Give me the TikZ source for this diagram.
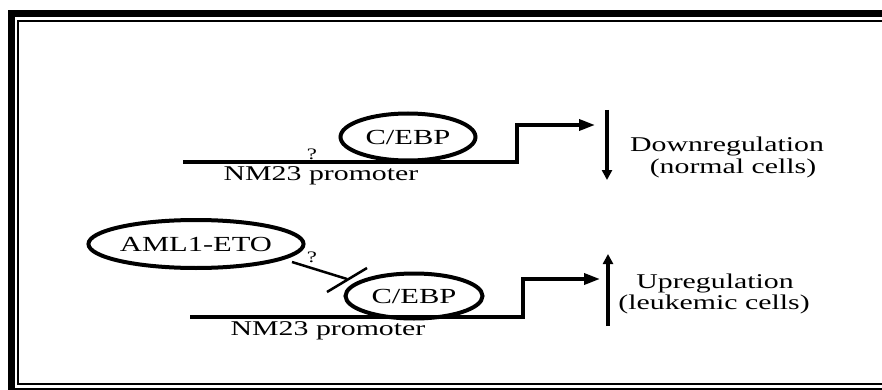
\documentclass[tikz,border=0pt]{standalone}
\usepackage{fontspec}
\setmainfont[FakeStretch=1.42]{Liberation Serif}
\usetikzlibrary{shapes.geometric,arrows.meta}
\tikzset{
  lbl/.style={font=\fontsize{21}{23}\selectfont, inner sep=0pt, anchor=base},
  qm/.style={font=\fontsize{16}{18}\selectfont, inner sep=0pt, anchor=base},
  prot/.style={ellipse, draw, line width=4pt, inner sep=0pt, font=\fontsize{21.5}{23}\selectfont},
  dna/.style={line width=3.5pt, line join=miter, -{Triangle[length=16pt,width=11pt]}},
  reg/.style={line width=3.5pt, -{Triangle[length=10pt,width=10pt]}},
  inh/.style={line width=2.5pt},
}
\begin{document}
\begin{tikzpicture}[x=1pt,y=-1pt]
\useasboundingbox (0,0) rectangle (882,390);
\clip (0,0) rectangle (882,390);
% frame
\draw[line width=7.5pt] (11.5,13.75) rectangle (900,391.5);
\draw[line width=2pt] (18,21) rectangle (895,384);

% ---- top row ----
\coordinate (p1s) at (183,162);
\coordinate (p1c) at (517,162);
\coordinate (p1u) at (517,125);
\coordinate (p1t) at (595,125);
\draw[dna] (p1s) -- (p1c) -- (p1u) -- (p1t);
\node[prot, minimum width=135pt, minimum height=47pt] (ceb1) at (408,137) {C/EBP};
\node[qm] (q1) at (312,160) {?};
\node[lbl] (prom1) at (321,180) {NM23 promoter};
\coordinate (d1) at (607,110);
\coordinate (d2) at (607,180);
\draw[reg] (d1) -- (d2);
\node[lbl] (down) at (727,152) {Downregulation};
\node[lbl] (norm) at (733,173) {(normal cells)};

% ---- bottom row ----
\coordinate (p2s) at (190,317);
\coordinate (p2c) at (523,317);
\coordinate (p2u) at (523,279);
\coordinate (p2t) at (600,279);
\draw[dna] (p2s) -- (p2c) -- (p2u) -- (p2t);
\node[prot, minimum width=137pt, minimum height=45pt] (ceb2) at (414,296) {C/EBP};
\node[prot, minimum width=190pt, minimum height=48pt] (aml) at (196,244) {AML1-ETO};
\coordinate (i1) at (292,262);
\coordinate (i2) at (347,279);
\coordinate (b1) at (327,292);
\coordinate (b2) at (367,268);
\draw[inh] (i1) -- (i2);
\draw[inh] (b1) -- (b2);
\node[qm] (q2) at (312,262) {?};
\node[lbl] (prom2) at (328,335) {NM23 promoter};
\coordinate (u1) at (608,326);
\coordinate (u2) at (608,254);
\draw[reg] (u1) -- (u2);
\node[lbl] (up) at (715,288) {Upregulation};
\node[lbl] (leuk) at (714,309) {(leukemic cells)};
\end{tikzpicture}
\end{document}
